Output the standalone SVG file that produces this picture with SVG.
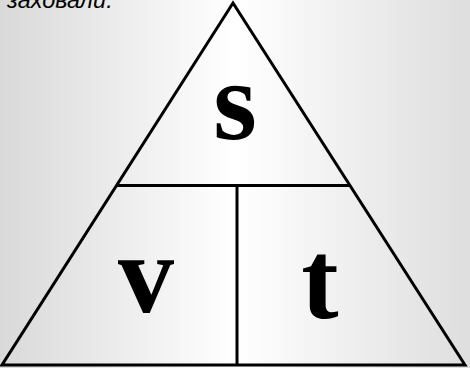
<svg xmlns="http://www.w3.org/2000/svg" width="470" height="368" viewBox="0 0 470 368">
  <defs>
    <linearGradient id="bg" x1="0" y1="0" x2="470" y2="0" gradientUnits="userSpaceOnUse">
      <stop offset="0" stop-color="#d9d9d9"/>
      <stop offset="0.5" stop-color="#ffffff"/>
      <stop offset="1" stop-color="#dedede"/>
    </linearGradient>
  </defs>
  <style>
    .edge { fill: none; stroke: #000; stroke-width: 3; stroke-linejoin: miter; }
    .div { fill: none; stroke: #000; stroke-width: 3; }
    .sym { font-family: "Liberation Serif", "Times New Roman", serif; font-weight: bold; font-size: 112px; fill: #000; text-anchor: middle; }
    .cap { font-family: "Liberation Sans", Arial, sans-serif; font-style: italic; font-size: 23.5px; fill: #000; }
  </style>
  <rect x="0" y="0" width="470" height="368" fill="url(#bg)"/>
  <g id="caption">
    <text class="cap" x="7" y="8">заховали.</text>
  </g>
  <g id="triangle">
    <polygon class="edge" points="233,3 2,365 465,365"/>
  </g>
  <g id="connectors">
    <line class="div" x1="116" y1="185.5" x2="349" y2="185.5"/>
    <line class="div" x1="237" y1="185.5" x2="237" y2="365"/>
  </g>
  <g id="cell-s">
    <text class="sym" x="235" y="139">s</text>
  </g>
  <g id="cell-v">
    <text class="sym" x="146" y="312">v</text>
  </g>
  <g id="cell-t">
    <text class="sym" x="320" y="318">t</text>
  </g>
</svg>
